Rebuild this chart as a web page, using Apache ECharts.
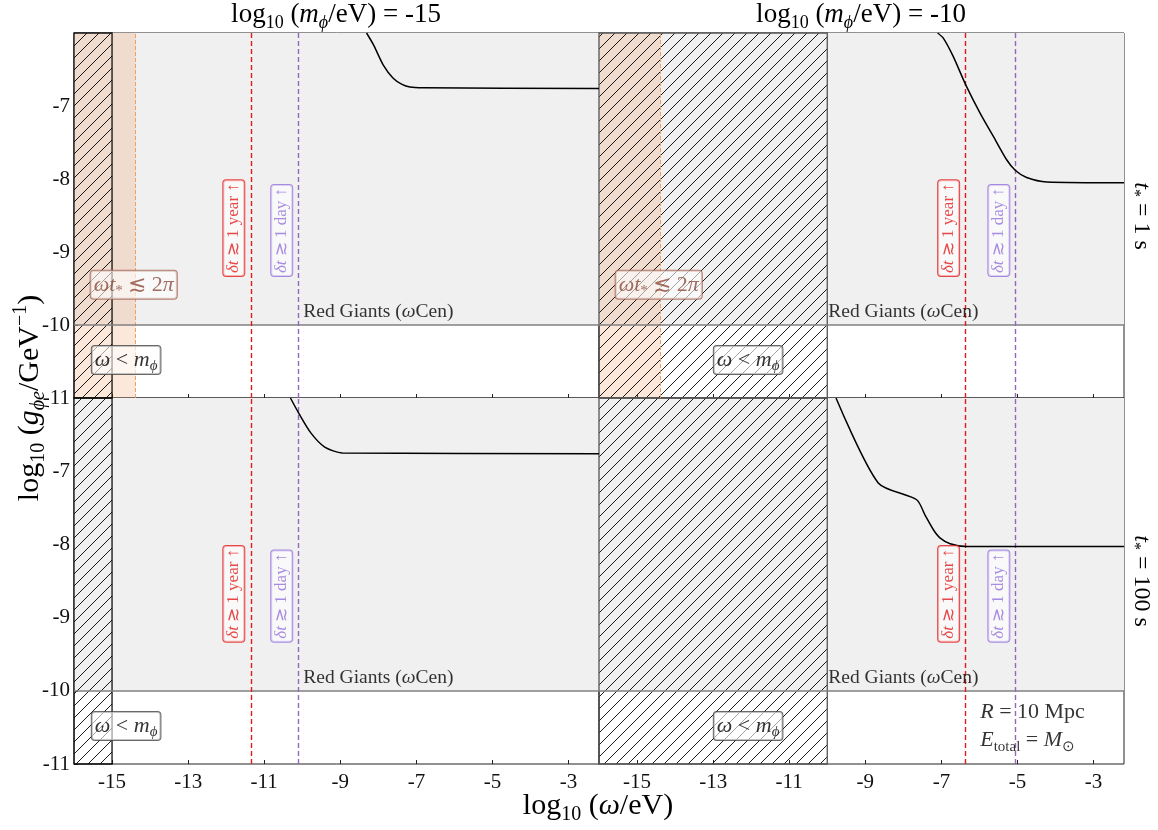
<!DOCTYPE html>
<html>
<head>
<meta charset="utf-8">
<script src="https://cdn.jsdelivr.net/npm/echarts@6/dist/echarts.min.js"></script>
<style>html,body{margin:0;background:#fff}#main{width:1158px;height:830px}</style>
</head>
<body>
<div id="main"></div>
<script>
var xMin = -16, xMax = -2.2, yMin = -11, yMax = -6;
var xTicks = [-15, -13, -11, -9, -7, -5, -3];
var yTicks = [-11, -10, -9, -8, -7];
var massValues = ['-15', '-10'];      // log10(m/eV) per column
var massBound = [-15, -10];           // omega < m
var durations = ['1 s', '100 s'];     // t* per row
var shortBound = -14.38;              // omega t* < 2pi, t* = 1 s
var rgBound = -10;                    // red giants
var yearLine = [-11.35, -6.36];
var dayLine = [-10.11, -5.06];
var lowLabelX = [-14.63, -12.08];

// sensitivity curves, TL TR BL BR
var curveTL = [[-8.31,-6.0],[-8.13,-6.16],[-7.87,-6.44],[-7.61,-6.62],[-7.39,-6.70],[-7.17,-6.74],[-6.82,-6.75],[-2.2,-6.76]];
var curveTR = [[-7.1,-6.0],[-6.95,-6.07],[-6.69,-6.32],[-6.36,-6.71],[-5.98,-7.10],[-5.63,-7.42],[-5.28,-7.74],[-5.06,-7.88],[-4.76,-7.98],[-4.23,-8.04],[-2.2,-8.05]];
var curveBL = [[-10.31,-6.0],[-10.09,-6.21],[-9.77,-6.48],[-9.41,-6.67],[-8.95,-6.75],[-2.2,-6.76]];
var curveBR = [[-9.77,-6.0],[-8.66,-7.16],[-7.65,-7.39],[-7.43,-7.60],[-7.21,-7.80],[-7.04,-7.91],[-6.77,-7.99],[-6.33,-8.03],[-2.2,-8.03]];
var curves = [curveTL, curveTR, curveBL, curveBR];

var SERIF = 'Liberation Serif';

function rich(size, color) {
    var lh = Math.round(size * 1.25), ss = Math.round(size * 0.68);
    return {
        r: {fontFamily: SERIF, fontSize: size, color: color, lineHeight: lh},
        i: {fontFamily: SERIF, fontSize: size, color: color, lineHeight: lh, fontStyle: 'italic'},
        s: {fontFamily: SERIF, fontSize: ss, color: color, lineHeight: ss, verticalAlign: 'bottom'},
        si: {fontFamily: SERIF, fontSize: ss, color: color, lineHeight: ss, verticalAlign: 'bottom', fontStyle: 'italic'},
        p: {fontFamily: SERIF, fontSize: ss, color: color, lineHeight: ss, verticalAlign: 'top'}
    };
}

function hatch(step) {
    var c = document.createElement('canvas');
    c.width = c.height = step;
    var ctx = c.getContext('2d');
    ctx.strokeStyle = '#000';
    ctx.lineWidth = 0.9;
    ctx.beginPath();
    ctx.moveTo(0, step); ctx.lineTo(step, 0);
    ctx.moveTo(-2, 2); ctx.lineTo(2, -2);
    ctx.moveTo(step - 2, step + 2); ctx.lineTo(step + 2, step - 2);
    ctx.stroke();
    return c;
}
var hatchImg = hatch(12);

var myChart = echarts.init(document.getElementById('main'));

var grids = [], xAxes = [], yAxes = [], series = [];
for (var p = 0; p < 4; p++) {
    var col = p % 2, row = p >> 1;
    grids.push({left: 74 + col * 525, top: 33 + row * 365, width: 525, height: row ? 366 : 365,
        show: true, borderColor: '#222', borderWidth: 1, backgroundColor: 'transparent'});
    xAxes.push({type: 'value', gridIndex: p, min: xMin, max: xMax,
        axisLine: {show: false}, splitLine: {show: false},
        axisTick: {show: true, inside: true, length: 4, customValues: xTicks, lineStyle: {color: '#222'}},
        axisLabel: {show: row === 1, customValues: xTicks, fontFamily: SERIF, fontSize: 21, color: '#111', margin: 8}});
    yAxes.push({type: 'value', gridIndex: p, min: yMin, max: yMax,
        axisLine: {show: false}, splitLine: {show: false},
        axisTick: {show: col === 0, inside: true, length: 4, customValues: yTicks, lineStyle: {color: '#222'}},
        axisLabel: {show: col === 0, customValues: yTicks, fontFamily: SERIF, fontSize: 21, color: '#111', margin: 4}});

    // red giants excluded region
    series.push({type: 'line', xAxisIndex: p, yAxisIndex: p, data: [], silent: true,
        markArea: {z: 1, silent: true, label: {show: false}, itemStyle: {color: '#f0f0f0'},
            data: [[{xAxis: xMin, yAxis: rgBound}, {xAxis: xMax, yAxis: yMax}]]}});
    // omega t* < 2pi
    if (row === 0) {
        series.push({type: 'line', xAxisIndex: p, yAxisIndex: p, data: [], silent: true,
            markArea: {z: 2, silent: true, label: {show: false}, itemStyle: {color: 'rgba(240,150,90,0.22)'},
                data: [[{xAxis: xMin, yAxis: yMin}, {xAxis: shortBound, yAxis: yMax}]]},
            markLine: {z: 4, silent: true, symbol: 'none', label: {show: false},
                lineStyle: {color: '#f0a060', type: [4, 2], width: 1},
                data: [{xAxis: shortBound}]}});
    }
    // omega < m
    series.push({type: 'line', xAxisIndex: p, yAxisIndex: p, data: [], silent: true,
        markArea: {z: 3, silent: true, label: {show: false},
            itemStyle: {color: {image: hatchImg, repeat: 'repeat'}, borderColor: col ? '#555' : '#111', borderWidth: 1.3},
            data: [[{xAxis: xMin, yAxis: yMin}, {xAxis: massBound[col], yAxis: yMax}]]},
        markLine: {z: 5, silent: true, symbol: 'none', label: {show: false},
            data: [
                {yAxis: rgBound, lineStyle: {color: '#808080', width: 1.6, type: 'solid'}},
                {xAxis: yearLine[col], lineStyle: {color: '#e41a1c', width: 1.4, type: [5, 3]}},
                {xAxis: dayLine[col], lineStyle: {color: '#9467bd', width: 1.4, type: [5, 3]}}
            ]}});
    // curve
    series.push({type: 'line', xAxisIndex: p, yAxisIndex: p, data: curves[p], z: 6,
        showSymbol: false, smooth: 0.25, silent: true,
        lineStyle: {color: '#000', width: 1.5}});

    // annotations
    var box = function (c) {
        return {backgroundColor: 'rgba(255,255,255,0.75)', borderColor: c, borderWidth: 1, borderRadius: 3, padding: [0, 3, 0, 3]};
    };
    var notes = [];
    notes.push({value: [yearLine[col] - 0.45, -9.33], label: Object.assign({show: true, position: 'inside', rotate: 90,
        align: 'left', verticalAlign: 'middle', formatter: '{i|δt}{r| ≳ 1 year ↑}', rich: rich(17, '#e41a1c')}, box('#e41a1c'))});
    notes.push({value: [dayLine[col] - 0.43, -9.33], label: Object.assign({show: true, position: 'inside', rotate: 90,
        align: 'left', verticalAlign: 'middle', formatter: '{i|δt}{r| ≳ 1 day ↑}', rich: rich(17, '#9370db')}, box('#9370db'))});
    notes.push({value: [rgBound, rgBound], label: {show: true, position: 'inside', align: 'left', verticalAlign: 'bottom',
        offset: [1, -1], formatter: '{r|Red Giants (}{i|ω}{r|Cen)}', rich: rich(19.5, '#000')}});
    notes.push({value: [lowLabelX[col], -10.48], label: Object.assign({show: true, position: 'inside',
        formatter: '{i|ω}{r| < }{i|m}{si|ϕ}', rich: rich(22, '#000')}, box('#444'))});
    if (row === 0) {
        notes.push({value: [-14.43, -9.45], label: Object.assign({show: true, position: 'inside',
            formatter: '{i|ωt}{s|*}{r| ≲ 2}{i|π}', rich: rich(22, '#8b4a3a')}, box('#a06050'))});
    }
    if (p === 3) {
        notes.push({value: [-5.98, -10.49], label: {show: true, position: 'inside', align: 'left', verticalAlign: 'middle',
            formatter: '{i|R}{r| = 10 Mpc}\n{i|E}{s|total}{r| = }{i|M}{s|⊙}', rich: rich(22, '#000')}});
    }
    series.push({type: 'scatter', xAxisIndex: p, yAxisIndex: p, z: 10, symbolSize: 0, silent: true, data: notes});
}

var titleRich = rich(27, '#000');
var axisRich = rich(30, '#000');
var sideRich = rich(24, '#000');
var graphics = [];
for (var c = 0; c < 2; c++) {
    graphics.push({type: 'text', x: 74 + c * 525 + 262, y: 15,
        style: {text: '{r|log}{s|10}{r| (}{i|m}{si|ϕ}{r|/eV) = ' + massValues[c] + '}', rich: titleRich,
            align: 'center', verticalAlign: 'middle', textAlign: 'center', textVerticalAlign: 'middle'}});
}
for (var r = 0; r < 2; r++) {
    graphics.push({type: 'text', x: 1141, y: 33 + r * 365 + 183, rotation: -Math.PI / 2,
        style: {text: '{i|t}{s|*}{r| = ' + durations[r] + '}', rich: sideRich,
            align: 'center', verticalAlign: 'middle', textAlign: 'center', textVerticalAlign: 'middle'}});
}
graphics.push({type: 'text', x: 30, y: 398, rotation: Math.PI / 2,
    style: {text: '{r|log}{s|10}{r| (}{i|g}{si|ϕe}{r|/GeV}{p|−1}{r|)}', rich: axisRich,
        align: 'center', verticalAlign: 'middle', textAlign: 'center', textVerticalAlign: 'middle'}});
graphics.push({type: 'text', x: 598, y: 806,
    style: {text: '{r|log}{s|10}{r| (}{i|ω}{r|/eV)}', rich: axisRich,
        align: 'center', verticalAlign: 'middle', textAlign: 'center', textVerticalAlign: 'middle'}});

option = {
    backgroundColor: '#fff',
    animation: false,
    grid: grids,
    xAxis: xAxes,
    yAxis: yAxes,
    series: series,
    graphic: graphics
};
myChart.setOption(option);
</script>
</body>
</html>
